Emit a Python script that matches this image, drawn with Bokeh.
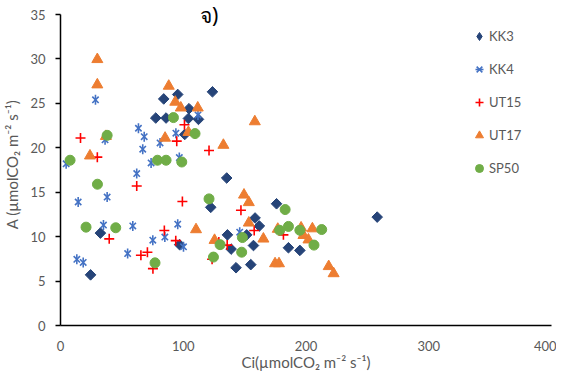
import numpy as np
from bokeh.plotting import figure
from bokeh.models import Legend, LegendItem, Label, FixedTicker
from bokeh.embed import file_html
from bokeh.resources import INLINE

# ---- data ----
kk3_x = [24.5, 32.5, 97, 122.4, 136, 139, 143, 151.7, 158.5, 162, 157.2, 155, 176, 185.7, 195, 258,
         135.4, 77.6, 86, 84.1, 95.5, 104.7, 104.2, 112.4, 123.8, 101.2]
kk3_y = [5.7, 10.4, 9.1, 13.3, 10.2, 8.6, 6.5, 10.2, 12.1, 11.2, 9.0, 6.85, 13.7, 8.75, 8.45, 12.2,
         16.6, 23.35, 23.35, 25.5, 26.0, 24.4, 23.3, 23.2, 26.3, 21.5]

kk4_x = [4.6, 28.5, 36.3, 63.5, 68.2, 67, 73.8, 81.1, 94, 96.8, 62.1, 112, 14.4, 38, 13.3, 18.5, 35,
         58.9, 54.7, 75.2, 85, 95.5, 100.2, 146]
kk4_y = [18.2, 25.4, 20.9, 22.2, 21.25, 19.85, 18.3, 20.55, 21.65, 18.9, 17.1, 23.7, 13.9, 14.45, 7.45,
         7.1, 11.3, 11.2, 8.1, 9.6, 9.95, 11.4, 8.85, 10.5]

ut15_x = [16.3, 30, 101, 94.7, 121, 62.1, 39.7, 99.3, 84.6, 93.9, 65.5, 70.8, 75.3, 135.8, 123.5, 147,
          157.8, 129, 181.6]
ut15_y = [21.1, 18.95, 22.6, 20.75, 19.7, 15.7, 9.75, 13.95, 10.7, 9.55, 7.9, 8.25, 6.4, 9.05, 7.45, 12.97,
          10.7, 9.4, 10.2]

ut17_x = [30, 30, 24, 37, 88.2, 93.5, 98, 111.8, 104.2, 85.2, 132.7, 158.3, 110.4, 125.5, 149.5, 153.4,
          153.4, 165.3, 174.8, 178, 177, 196, 197.9, 202, 205.2, 218.5, 222.5]
ut17_y = [29.95, 27.1, 19.1, 21.3, 26.95, 25.15, 24.5, 24.5, 21.75, 21.1, 20.3, 22.95, 10.8, 9.6, 14.7,
          13.85, 11.55, 9.75, 6.97, 6.97, 10.85, 11.0, 10.15, 9.65, 10.9, 6.65, 5.85]

sp50_x = [7.8, 38, 30.1, 92, 109.6, 79, 86, 98.8, 20.8, 45, 77, 121, 124.6, 130, 148.2, 147.6, 183,
          185.7, 178.5, 195, 212.8, 206.5]
sp50_y = [18.6, 21.4, 15.9, 23.4, 21.6, 18.6, 18.6, 18.4, 11.07, 11.0, 7.05, 14.25, 7.7, 9.1, 9.9, 8.25,
          13.05, 11.15, 10.72, 10.72, 10.8, 9.05]

series_names = ["KK3", "KK4", "UT15", "UT17", "SP50"]
x_ticks = [0, 100, 200, 300, 400]
y_ticks = [0, 5, 10, 15, 20, 25, 30, 35]
title_text = "จ)"
x_label = "Ci(µmolCO₂ m⁻² s⁻¹)"
y_label = "A (µmolCO₂ m⁻² s⁻¹)"

FONT = "Lato"
GRAY = "#595959"

# frame extends a little above 35 so the title fits inside it; axis line is bounded to 0-35
p = figure(frame_width=491, frame_height=322, x_range=(0, 400), y_range=(0, 36.24),
           output_backend="svg", toolbar_location=None,
           min_border_left=55, min_border_right=5, min_border_top=3, min_border_bottom=40)
p.outline_line_color = None
p.grid.visible = False

# markers
r_kk3 = p.scatter(kk3_x, kk3_y, marker="square", size=7.5, angle=np.pi / 4,
                  fill_color="#264478", line_color="#264478")
# same series drawn as a plain diamond, only used for the legend swatch
r_kk3_leg = p.scatter(kk3_x, kk3_y, marker="diamond", size=12, visible=False,
                      fill_color="#264478", line_color="#264478")
r_kk4a = p.scatter(kk4_x, kk4_y, marker="x", size=9, line_color="#4472C4", line_width=1.6)
r_kk4b = p.scatter(kk4_x, kk4_y, marker="dash", size=10, angle=np.pi / 2,
                   line_color="#4472C4", line_width=1.6)
r_ut15 = p.scatter(ut15_x, ut15_y, marker="cross", size=10, line_color="#FF0000", line_width=1.6)
r_ut17 = p.scatter(ut17_x, ut17_y, marker="triangle", size=11,
                   fill_color="#ED7D31", line_color="#ED7D31")
r_sp50 = p.scatter(sp50_x, sp50_y, marker="circle", size=10,
                   fill_color="#70AD47", line_color="#70AD47")

legend = Legend(items=[
    LegendItem(label=series_names[0], renderers=[r_kk3_leg]),
    LegendItem(label=series_names[1], renderers=[r_kk4a, r_kk4b]),
    LegendItem(label=series_names[2], renderers=[r_ut15]),
    LegendItem(label=series_names[3], renderers=[r_ut17]),
    LegendItem(label=series_names[4], renderers=[r_sp50]),
], location=(409, 146))
legend.background_fill_alpha = 0
legend.border_line_color = None
legend.padding = 0
legend.margin = 0
legend.spacing = 11
legend.glyph_width = 20
legend.glyph_height = 22
legend.label_height = 22
legend.label_standoff = -1
legend.label_text_font = FONT
legend.label_text_font_size = "13px"
legend.label_text_color = GRAY
legend.click_policy = "none"
p.add_layout(legend)

# axes
for ax in (p.xaxis[0], p.yaxis[0]):
    ax.axis_line_color = "black"
    ax.axis_line_width = 1.5
    ax.minor_tick_line_color = None
    ax.major_label_text_font = FONT
    ax.major_label_text_font_size = "13px"
    ax.major_label_text_color = GRAY
    ax.axis_label_text_font = FONT
    ax.axis_label_text_font_size = "15px"
    ax.axis_label_text_font_style = "normal"
    ax.axis_label_text_color = GRAY

p.xaxis.ticker = FixedTicker(ticks=x_ticks)
p.yaxis.ticker = FixedTicker(ticks=y_ticks)
p.yaxis.bounds = (0, 35)
p.xaxis.major_tick_line_color = None
p.xaxis.major_tick_out = 0
p.xaxis.major_tick_in = 0
p.xaxis.major_label_standoff = 15
p.xaxis.axis_label = x_label
p.xaxis.axis_label_standoff = -1

p.yaxis.major_tick_line_color = "black"
p.yaxis.major_tick_line_width = 1.5
p.yaxis.major_tick_out = 5
p.yaxis.major_tick_in = 0
p.yaxis.major_label_standoff = 10
p.yaxis.axis_label = y_label
p.yaxis.axis_label_standoff = 6

title = Label(x=121, y=34.9, text=title_text, text_align="center", text_baseline="alphabetic",
              text_font="Noto Sans", text_font_size="21px", text_color="black")
p.add_layout(title)

open("out.html", "w").write(file_html(p, INLINE))
